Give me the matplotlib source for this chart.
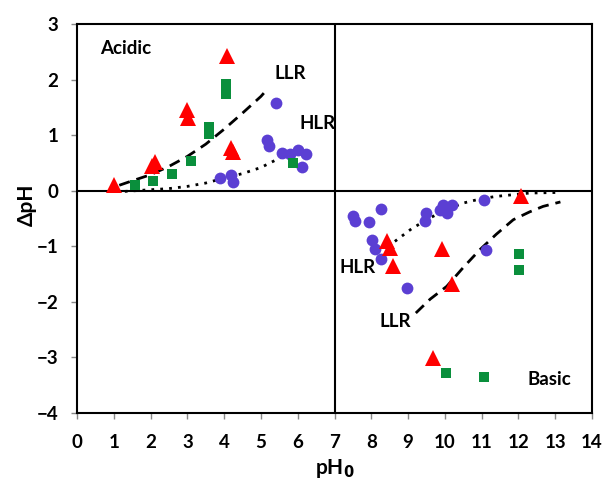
import matplotlib
matplotlib.use("Agg")
import matplotlib.pyplot as plt

plt.rcParams['font.family'] = ['Lato', 'DejaVu Sans']

# Red triangles
tri_x = [1.0, 2.05, 2.12, 2.98, 3.02, 4.07, 4.2, 4.25,
         8.43, 8.5, 8.6, 9.91, 10.18, 12.08, 9.68]
tri_y = [0.11, 0.45, 0.52, 1.45, 1.31, 2.42, 0.78, 0.70,
         -0.91, -1.03, -1.36, -1.05, -1.67, -0.10, -3.01]

# Green squares
sq_x = [1.58, 2.07, 2.57, 3.09, 3.6, 3.6, 4.05, 4.05, 5.86,
        12.02, 12.02, 10.03, 11.07]
sq_y = [0.11, 0.17, 0.31, 0.53, 1.02, 1.15, 1.75, 1.92, 0.50,
        -1.13, -1.43, -3.28, -3.35]

# Purple circles
cir_x = [3.9, 4.2, 4.23, 5.4, 5.17, 5.23, 5.56, 5.79, 6.01, 6.22, 6.12,
         7.49, 7.55, 7.94, 8.25, 8.01, 8.1, 8.25, 8.96, 9.5, 9.47,
         9.95, 10.05, 10.18, 9.86, 11.07, 11.13]
cir_y = [0.23, 0.29, 0.15, 1.58, 0.92, 0.80, 0.69, 0.67, 0.74, 0.67, 0.43,
         -0.46, -0.55, -0.56, -0.32, -0.89, -1.05, -1.22, -1.75, -0.40, -0.55,
         -0.25, -0.40, -0.25, -0.34, -0.16, -1.07]

# Trend curves
llr_acid_x = [1.15, 1.5, 2.0, 2.5, 3.0, 3.5, 4.0, 4.5, 5.0, 5.2]
llr_acid_y = [0.10, 0.18, 0.29, 0.44, 0.62, 0.84, 1.11, 1.40, 1.70, 1.85]
hlr_acid_x = [1.3, 2.0, 2.5, 3.0, 3.5, 4.0, 4.5, 5.0, 5.6]
hlr_acid_y = [-0.01, 0.02, 0.04, 0.08, 0.14, 0.23, 0.31, 0.42, 0.62]
hlr_base_x = [8.64, 9.1, 9.59, 10.0, 10.5, 11.0, 11.4, 12.3, 13.03]
hlr_base_y = [-0.91, -0.68, -0.49, -0.35, -0.22, -0.14, -0.10, -0.04, -0.03]
llr_base_x = [9.21, 9.6, 10.05, 10.5, 10.95, 11.4, 11.86, 12.3, 12.67, 13.14]
llr_base_y = [-2.2, -1.95, -1.72, -1.38, -1.06, -0.78, -0.52, -0.38, -0.28, -0.20]

x_ticks = list(range(0, 15))
y_ticks = [-4, -3, -2, -1, 0, 1, 2, 3]

fig = plt.figure(figsize=(6.06, 4.84), dpi=100)
ax = fig.add_axes([0.127, 0.1467, 0.850, 0.8033])

ax.plot(llr_acid_x, llr_acid_y, color='black', linestyle=(0, (4, 2.5)), lw=2, zorder=2)
ax.plot(hlr_acid_x, hlr_acid_y, color='black', linestyle=(0, (1, 2.2)), lw=2, zorder=2)
ax.plot(hlr_base_x, hlr_base_y, color='black', linestyle=(0, (1, 2.2)), lw=2, zorder=2)
ax.plot(llr_base_x, llr_base_y, color='black', linestyle=(0, (4, 2.5)), lw=2, zorder=2)

ax.plot(cir_x, cir_y, 'o', color='#5B3FD3', markersize=8.5, markeredgewidth=0, zorder=3)
ax.plot(sq_x, sq_y, 's', color='#0A8F3C', markersize=7.5, markeredgewidth=0, zorder=3)
ax.plot(tri_x, tri_y, '^', color='#FF0000', markersize=11, markeredgewidth=0, zorder=4)

ax.axhline(0, color='black', lw=1.5, zorder=1)
ax.axvline(7, color='black', lw=1.5, zorder=1)

ax.set_xlim(0, 14)
ax.set_ylim(-4, 3)
ax.set_xticks(x_ticks)
ax.set_yticks(y_ticks)
ax.tick_params(axis='both', direction='out', length=4.5, width=1, color='#888888',
               labelsize=13.5)
ax.tick_params(axis='x', pad=10.5)
ax.tick_params(axis='y', pad=9)
for lab in ax.get_xticklabels() + ax.get_yticklabels():
    lab.set_fontweight('bold')
for s in ax.spines.values():
    s.set_linewidth(1.5)
    s.set_color('black')

ax.set_xlabel('pH$_\\mathbf{0}$', fontsize=15, fontweight='bold')
ax.set_ylabel('ΔpH', fontsize=15, fontweight='bold')
ax.xaxis.set_label_coords(0.5, -0.112)
ax.yaxis.set_label_coords(-0.077, 0.535)

tk = dict(fontsize=13.5, fontweight='bold', color='black')
ax.text(0.63, 2.57, 'Acidic', ha='left', va='center', **tk)
ax.text(5.79, 2.12, 'LLR', ha='center', va='center', **tk)
ax.text(6.55, 1.22, 'HLR', ha='center', va='center', **tk)
ax.text(7.64, -1.38, 'HLR', ha='center', va='center', **tk)
ax.text(8.64, -2.36, 'LLR', ha='center', va='center', **tk)
ax.text(12.85, -3.4, 'Basic', ha='center', va='center', **tk)

fig.savefig('out.png', dpi=100)
